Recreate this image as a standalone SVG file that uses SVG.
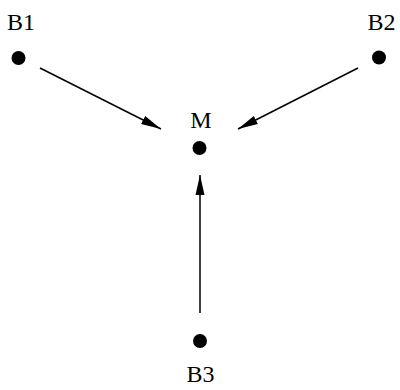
<svg xmlns="http://www.w3.org/2000/svg" width="400" height="390" viewBox="0 0 400 390">
<style>
.lbl{font-family:"Liberation Serif","Times New Roman",serif;font-size:24px;fill:#000;text-anchor:middle}
.dot{fill:#000}
.edge{stroke:#000;stroke-width:1.5;fill:none}
</style>
<defs>
<marker id="ah" markerUnits="userSpaceOnUse" markerWidth="22" markerHeight="12" refX="20" refY="5" orient="auto" viewBox="0 0 22 10">
<path d="M0,0.5 L20,5 L0,9.5 Z" fill="#000"/>
</marker>
</defs>
<rect width="400" height="390" fill="#fff"/>
<g id="connectors">
<line class="edge" x1="40" y1="68" x2="161" y2="129" marker-end="url(#ah)"/>
<line class="edge" x1="358" y1="68" x2="238" y2="129" marker-end="url(#ah)"/>
<line class="edge" x1="200" y1="313" x2="200" y2="175" marker-end="url(#ah)"/>
</g>
<g id="B1">
<circle class="dot" cx="18.5" cy="58" r="7"/>
<text class="lbl" x="21" y="30">B1</text>
</g>
<g id="B2">
<circle class="dot" cx="379" cy="57.5" r="7"/>
<text class="lbl" x="381.5" y="30">B2</text>
</g>
<g id="M">
<circle class="dot" cx="199.5" cy="148" r="7"/>
<text class="lbl" x="201" y="127.5">M</text>
</g>
<g id="B3">
<circle class="dot" cx="200" cy="341" r="7"/>
<text class="lbl" x="200.5" y="382">B3</text>
</g>
</svg>
